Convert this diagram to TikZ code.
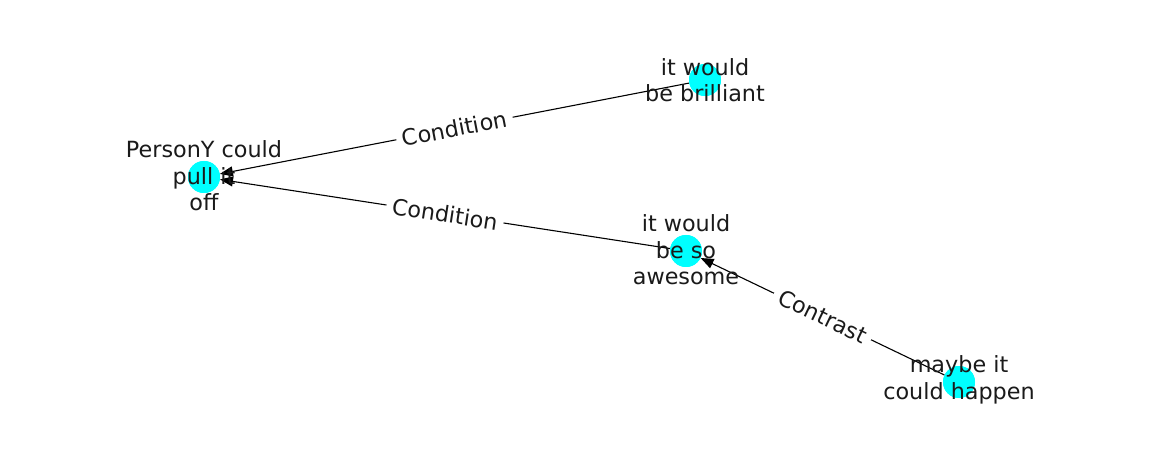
\documentclass[tikz,border=0pt]{standalone}
\usepackage{fontspec}
\setmainfont{DejaVu Sans}
\usetikzlibrary{arrows.meta}
\definecolor{nodecyan}{HTML}{00FFFF}
\definecolor{txt}{HTML}{1A1A1A}
\tikzset{
  dot/.style={circle, fill=nodecyan, draw=none, minimum size=32pt, inner sep=0pt},
  lbl/.style={align=center, text=txt, font=\fontsize{22.3}{26.5}\selectfont, inner sep=0pt},
  edge/.style={draw=black, line width=1.1pt, -{Triangle[length=13pt,width=10pt]}},
  elabel/.style={fill=white, text=txt, font=\fontsize{22.3}{26}\selectfont, inner xsep=6pt, inner ysep=4pt, sloped, midway}
}
\begin{document}
\begin{tikzpicture}[x=1pt,y=-1pt]
\useasboundingbox (0,0) rectangle (1162,462);
\fill[white] (0,0) rectangle (1162,462);
\node[dot] (p) at (204,177) {};
\node[dot] (b) at (705,80) {};
\node[dot] (a) at (686,251) {};
\node[dot] (m) at (959,382) {};
\draw[edge] (b) -- node[elabel] {Condition} (p);
\draw[edge] (a) -- node[elabel] {Condition} (p);
\draw[edge] (m) -- node[elabel] {Contrast} (a);
\node[dot] at (p) {};
\node[dot] at (b) {};
\node[dot] at (a) {};
\node[dot] at (m) {};
\node[lbl] (pl) at (204,176) {PersonY could\\pull it\\off};
\node[lbl] (bl) at (705,80) {it would\\be brilliant};
\node[lbl] (al) at (686,250) {it would\\be so\\awesome};
\node[lbl] (ml) at (959,380) {maybe it\\could happen};
\end{tikzpicture}
\end{document}
